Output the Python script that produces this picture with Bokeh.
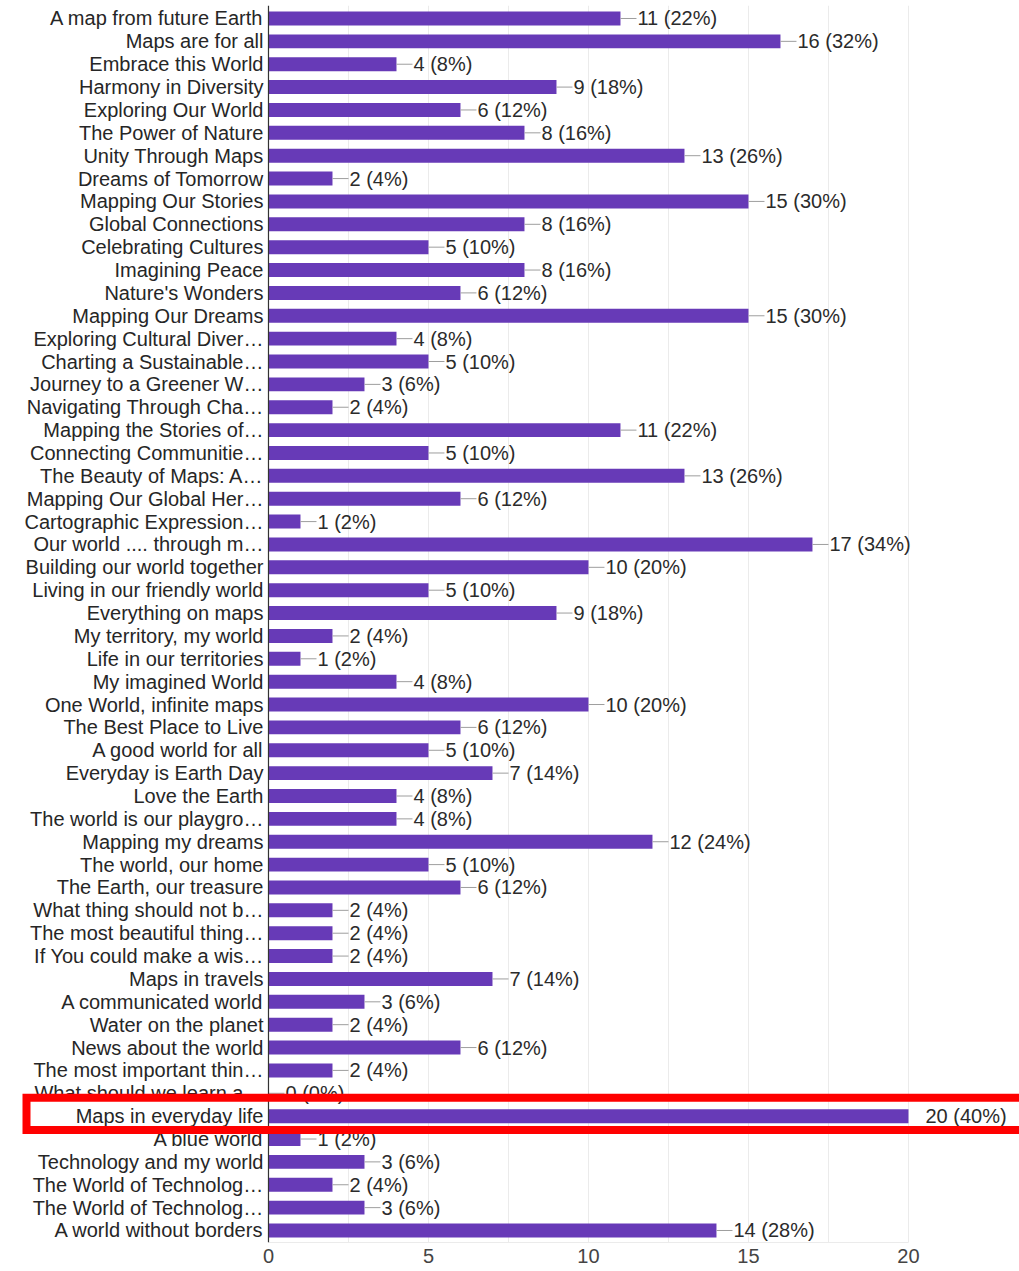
from bokeh.plotting import figure
from bokeh.models import Range1d, FixedTicker, BoxAnnotation, ColumnDataSource, Span
from bokeh.core.properties import value
from bokeh.embed import file_html
from bokeh.resources import INLINE

categories = [
    "A map from future Earth", "Maps are for all", "Embrace this World",
    "Harmony in Diversity", "Exploring Our World", "The Power of Nature",
    "Unity Through Maps", "Dreams of Tomorrow", "Mapping Our Stories",
    "Global Connections", "Celebrating Cultures", "Imagining Peace",
    "Nature's Wonders", "Mapping Our Dreams", "Exploring Cultural Diver\u2026",
    "Charting a Sustainable\u2026", "Journey to a Greener W\u2026",
    "Navigating Through Cha\u2026", "Mapping the Stories of\u2026",
    "Connecting Communitie\u2026", "The Beauty of Maps: A\u2026",
    "Mapping Our Global Her\u2026", "Cartographic Expression\u2026",
    "Our world .... through m\u2026", "Building our world together",
    "Living in our friendly world", "Everything on maps",
    "My territory, my world", "Life in our territories", "My imagined World",
    "One World, infinite maps", "The Best Place to Live", "A good world for all",
    "Everyday is Earth Day", "Love the Earth", "The world is our playgro\u2026",
    "Mapping my dreams", "The world, our home", "The Earth, our treasure",
    "What thing should not b\u2026", "The most beautiful thing\u2026",
    "If You could make a wis\u2026", "Maps in travels", "A communicated world",
    "Water on the planet", "News about the world", "The most important thin\u2026",
    "What should we learn a\u2026", "Maps in everyday life", "A blue world",
    "Technology and my world", "The World of Technolog\u2026",
    "The World of Technolog\u2026", "A world without borders",
]
counts = [
    11, 16, 4, 9, 6, 8, 13, 2, 15, 8, 5, 8, 6, 15, 4, 5, 3, 2, 11, 5, 13, 6, 1,
    17, 10, 5, 9, 2, 1, 4, 10, 6, 5, 7, 4, 4, 12, 5, 6, 2, 2, 2, 7, 3, 2, 6, 2,
    0, 20, 1, 3, 2, 3, 14,
]
total_respondents = 50
x_ticks = [0, 5, 10, 15, 20]
grid_ticks = [2.5, 5, 7.5, 10, 12.5, 15, 17.5, 20]
highlight = "Maps in everyday life"

n = len(categories)
ys = list(range(n))
labels = [f"{c} ({round(c * 100 / total_respondents)}%)" for c in counts]
h = categories.index(highlight)

src = ColumnDataSource(dict(y=ys, count=counts, label=labels, cat=categories,
                            zero=[0] * n))
lead_idx = [i for i in ys if i != h]
src_lead = ColumnDataSource(dict(y=lead_idx, count=[counts[i] for i in lead_idx]))

FONT = "Liberation Sans"

p = figure(
    width=1019, height=1271, output_backend="svg", toolbar_location=None,
    x_range=Range1d(-8.375, 23.47), y_range=Range1d(n - 1 + 0.525, -0.568),
    min_border_left=0, min_border_right=0, min_border_top=5,
    min_border_bottom=29,
)
p.outline_line_color = None
p.background_fill_color = "white"

p.hbar(y="y", left=0, right="count", height=0.61, fill_color="#673ab7",
       line_color=None, source=src)
p.ray(x="count", y="y", length=16, length_units="screen", angle=0,
      line_color="#9e9e9e", line_width=1, source=src_lead)
p.text(x="count", y="y", text="label", x_offset=17, text_baseline="middle",
       text_align="left", text_font=value(FONT), text_font_size="20px",
       text_color="#2b2b2b", source=src)

# category labels (left of the value axis)
p.text(x="zero", y="y", text="cat", x_offset=-5, text_baseline="middle",
       text_align="right", text_font=value(FONT), text_font_size="20px",
       text_color="#262626", source=src)

p.yaxis.visible = False
p.ygrid.grid_line_color = None
p.add_layout(Span(location=0, dimension="height", line_color="#333333",
                  line_width=1.2))

p.xaxis.ticker = FixedTicker(ticks=x_ticks)
p.xaxis.major_label_text_font = FONT
p.xaxis.major_label_text_font_size = "20px"
p.xaxis.major_label_text_color = "#444444"
p.xaxis.major_tick_line_color = None
p.xaxis.minor_tick_line_color = None
p.xaxis.major_tick_out = 0
p.xaxis.major_label_standoff = 6
p.xaxis.axis_line_color = "#ebebeb"
p.xaxis.bounds = (0, 20)

p.xgrid.ticker = FixedTicker(ticks=grid_ticks)
p.xgrid.grid_line_color = "#ebebeb"
p.xgrid.grid_line_width = 1

box = BoxAnnotation(top=h - 0.8, bottom=h + 0.6, left=-7.5625, right=24,
                    fill_alpha=0, fill_color=None, line_color="#ff0000",
                    line_alpha=1.0, line_width=8, line_join="miter",
                    border_radius=0, level="overlay")
p.add_layout(box)

open("out.html", "w").write(file_html(p, INLINE))
